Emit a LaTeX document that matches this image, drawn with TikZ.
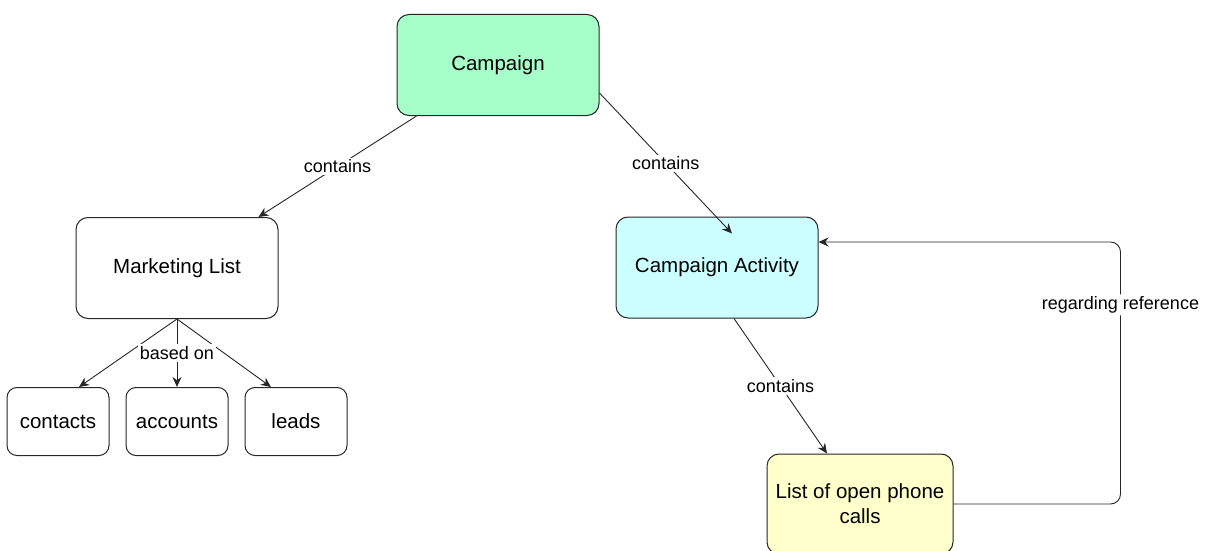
\documentclass[tikz,border=0pt]{standalone}
\usepackage{fontspec}
\setmainfont{Liberation Sans}
\usetikzlibrary{arrows.meta, positioning}

\definecolor{campgreen}{RGB}{166,255,200}
\definecolor{actcyan}{RGB}{204,255,255}
\definecolor{callyellow}{RGB}{255,255,204}

\begin{document}
\begin{tikzpicture}[x=1pt, y=-1pt, node distance=16pt, box/.style={draw=black!85, line width=1pt, rounded corners=12pt, align=center, minimum width=202pt, minimum height=101pt, font=\fontsize{20.5}{25}\selectfont}, leaf/.style={box, rounded corners=10pt, minimum width=102pt, minimum height=68pt}, arrow/.style={-{Stealth[length=10pt, width=9pt]}, draw=black!85, line width=0.9pt}, lbl/.style={fill=white, inner sep=2pt, font=\fontsize{18}{21}\selectfont}]

\useasboundingbox (0,0) rectangle (1213,551);
\node[box, fill=campgreen] (campaign) at (498,65) {Campaign};
\node[box] (marketing) at (177,268) {Marketing List};
\node[box, fill=actcyan] (activity) at (717,267.5) {Campaign Activity};
\node[leaf, below=68pt of marketing] (accounts) {accounts};
\node[leaf, left=of accounts] (contacts) {contacts};
\node[leaf, right=of accounts] (leads) {leads};
\node[box, fill=callyellow, minimum width=186pt, minimum height=100pt] (calls) at (860,504) {List of open phone\\calls};
\draw[arrow] ([xshift=20pt]campaign.south west) -- node[lbl] {contains} ([xshift=-20pt]marketing.north east);\draw[arrow] ([yshift=-28pt]campaign.east) -- node[lbl] {contains} ([xshift=15pt, yshift=34pt]activity.center);
\draw[arrow] (marketing.south) -- ([xshift=21pt]contacts.north);\draw[arrow] (marketing.south) -- ([xshift=-25pt]leads.north);\draw[arrow] (marketing.south) -- node[lbl] {based on} (accounts.north);
\draw[arrow] ([xshift=17pt]activity.south) -- node[lbl] {contains} ([xshift=-33pt]calls.north);
\draw[arrow, rounded corners=10pt] (calls.east) -- ++(167,0) |- node[lbl, pos=0.38] {regarding reference} ([yshift=25.5pt]activity.east);

\end{tikzpicture}
\end{document}
